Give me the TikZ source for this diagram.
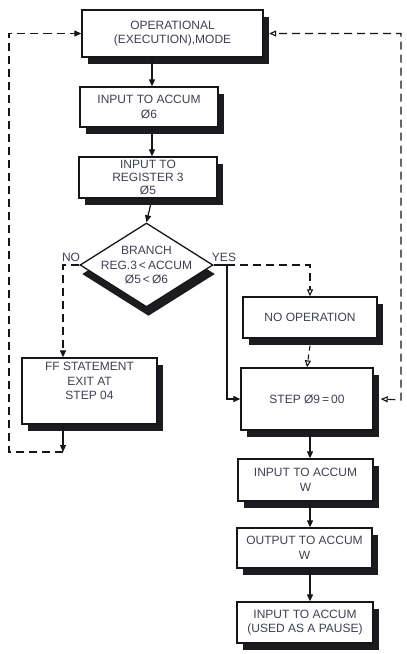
\documentclass[tikz,border=0pt]{standalone}
\usepackage{fontspec}
\setmainfont{Liberation Sans}
\usetikzlibrary{shapes.geometric,arrows.meta,shadows}
\definecolor{ink}{RGB}{22,22,26}
\definecolor{txtcol}{RGB}{62,64,84}
\definecolor{shade}{RGB}{28,28,32}
\begin{document}
\begin{tikzpicture}[x=1pt,y=-1pt,
  every node/.style={font=\fontsize{12}{14.5}\selectfont, text=txtcol, align=center},
  tight/.style={font=\fontsize{12}{12.6}\selectfont},
  boxline/.style={draw=ink, line width=1.3pt, fill=white, inner sep=0pt},
  stepbox/.style={boxline, rectangle,
    drop shadow={shadow xshift=5.5pt, shadow yshift=-7pt, fill=shade, opacity=1}},
  decbox/.style={boxline, diamond,
    drop shadow={shadow xshift=2pt, shadow yshift=-9pt, fill=shade, opacity=1}},
  flow/.style={draw=ink, line width=1.2pt, -{Triangle[length=7pt,width=6pt]}},
  dashflow/.style={draw=ink, line width=1.2pt, dash pattern=on 8pt off 5pt,
    -{Triangle[length=7pt,width=6pt]}},
  dashopen/.style={draw=ink, line width=1.1pt, dash pattern=on 8pt off 5pt,
    -{Triangle[open,length=7pt,width=6pt]}},
  dashboth/.style={draw=ink, line width=1.1pt, dash pattern=on 8pt off 5pt,
    {Triangle[open,length=7pt,width=6pt]}-{Triangle[open,length=7pt,width=6pt]}}
]
\useasboundingbox (0,0) rectangle (407,654);
\fill[white] (0,0) rectangle (407,654);

% main column
\node[stepbox, minimum width=181pt, minimum height=47pt] (op) at (172.5,33.5)
  {OPERATIONAL\\(EXECUTION),MODE};
\node[stepbox, minimum width=138pt, minimum height=40pt] (in1) at (149,107)
  {INPUT TO ACCUM\\Ø6};
\node[stepbox, minimum width=138pt, minimum height=41pt] (reg) at (148,177.5) {};
\node[tight] (regtext) at (reg.center) {INPUT TO\\REGISTER 3\\Ø5};

% branch
\node[decbox, minimum width=133pt, minimum height=84pt] (dia) at (146.5,265) {};
\node (diatext) at (dia.center) {BRANCH\\REG.3\,<\,ACCUM\\Ø5\,<\,Ø6};
\node (no) at (71,257) {NO};
\node (yes) at (224,257) {YES};

% NO side
\node[stepbox, minimum width=135pt, minimum height=66pt] (ff) at (89.5,391) {};
\node (fftext) at ([yshift=10pt]ff.center) {FF STATEMENT\\EXIT AT\\STEP 04};

% YES side
\node[stepbox, minimum width=134pt, minimum height=41pt] (noop) at (310,317.5)
  {NO OPERATION};
\node[stepbox, minimum width=132pt, minimum height=62pt] (step) at (307,399)
  {STEP Ø9\,=\,00};
\node[stepbox, minimum width=135pt, minimum height=42pt] (inw) at (305.5,480)
  {INPUT TO ACCUM\\W};
\node[stepbox, minimum width=135pt, minimum height=40pt] (outw) at (304.5,548)
  {OUTPUT TO ACCUM\\W};
\node[stepbox, minimum width=136pt, minimum height=41pt] (pause) at (305,622.5)
  {INPUT TO ACCUM\\(USED AS A PAUSE)};

% routing points
\coordinate (ax) at (152,0);
\coordinate (lowx) at (310,0);
\coordinate (nox) at (63,0);
\coordinate (yesc) at (227,265);
\coordinate (ffout) at (63,452);
\coordinate (leftc) at (9,452);
\coordinate (rightc) at (401,400);

% solid flow
\draw[flow] (op.south -| ax) -- (in1.north -| ax);
\draw[flow] (in1.south -| ax) -- (reg.north -| ax);
\draw[flow] (reg.south -| ax) -- (dia.north);
\draw[flow] (dia.east) -- (yesc) |- (step.west);
\draw[flow] (step.south -| lowx) -- (inw.north -| lowx);
\draw[flow] (inw.south -| lowx) -- (outw.north -| lowx);
\draw[flow] (outw.south -| lowx) -- (pause.north -| lowx);
\draw[flow] (ff.south -| nox) -- (ffout);

% dashed returns
\draw[dashflow] (dia.west) -| (ff.north -| nox);
\draw[dashflow] (ffout) -- (leftc) |- (op.west);
\draw[dashopen] (yesc) -| (noop.north);
\draw[dashopen, dash pattern=on 5pt off 4pt] ([yshift=-7pt]noop.south) -- (step.north);
\draw[dashboth] ([xshift=7pt]step.east) -- (rightc) |- ([xshift=5.5pt]op.east);
\end{tikzpicture}
\end{document}
